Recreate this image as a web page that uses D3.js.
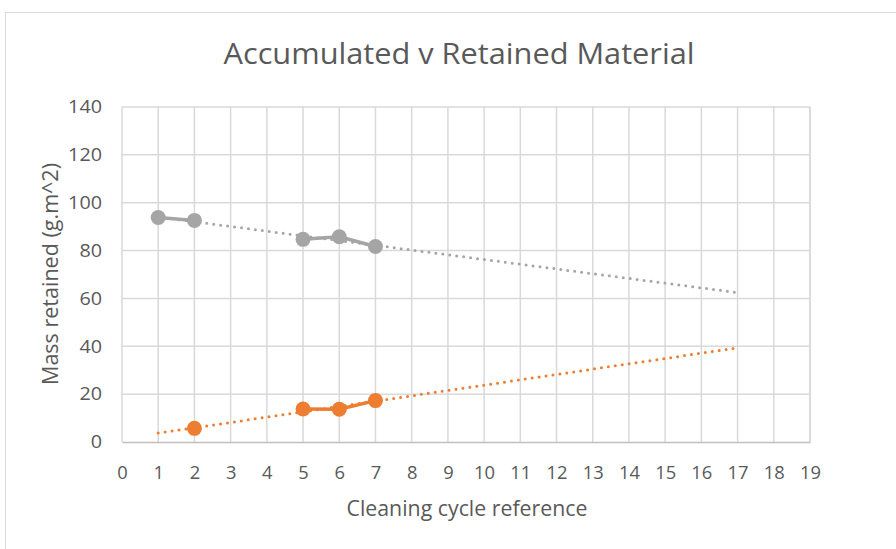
<!DOCTYPE html>
<html>
<head>
<meta charset="utf-8">
<script src="https://cdn.jsdelivr.net/npm/d3@7"></script>
<style>
  body { margin: 0; background: #fff; }
  text { font-family: "Open Sans", sans-serif; fill: #595959; }
</style>
</head>
<body>
<script>
//chart values
var cycles = [1, 2, 5, 6, 7];
var accumulated = [93.8, 92.6, 84.7, 85.8, 81.7];
var retainedCycles = [2, 5, 6, 7];
var retained = [5.7, 13.8, 13.7, 17.3];
var xTicks = d3.range(0, 20);
var yTicks = [0, 20, 40, 60, 80, 100, 120, 140];
var trendFrom = 1, trendTo = 17;

(function(){
	var width = 896, height = 549;
	var margin = {left: 122, right: 86, top: 107, bottom: 107};

	var svg = d3.select("body").append("svg")
		.attr("width", width)
		.attr("height", height);

	//outer chart border
	svg.append("rect")
		.attr("x", 5.5).attr("y", 12.5)
		.attr("width", 1000).attr("height", 1000)
		.attr("fill", "none")
		.attr("stroke", "#d9d9d9");

	var x = d3.scaleLinear().domain([0, 19]).range([margin.left, width - margin.right]);
	var y = d3.scaleLinear().domain([0, 140]).range([height - margin.bottom, margin.top]);

	//gridlines
	svg.append("g").selectAll("line").data(yTicks.slice(1)).enter().append("line")
		.attr("x1", x(0)).attr("x2", x(19))
		.attr("y1", function(d){ return y(d); }).attr("y2", function(d){ return y(d); })
		.attr("stroke", "#d9d9d9").attr("stroke-width", 1.5);
	svg.append("g").selectAll("line").data(xTicks.concat([19])).enter().append("line")
		.attr("x1", function(d){ return x(d); }).attr("x2", function(d){ return x(d); })
		.attr("y1", y(0)).attr("y2", y(140))
		.attr("stroke", "#d9d9d9").attr("stroke-width", 1.5);

	//axes
	var xAxis = svg.append("g")
		.attr("transform", "translate(0," + y(0) + ")")
		.call(d3.axisBottom(x).tickValues(xTicks).tickSize(0).tickPadding(24));
	xAxis.select(".domain").attr("stroke", "#bfbfbf").attr("stroke-width", 1.5);
	xAxis.selectAll("text").style("font-size", "18px").attr("fill", "#595959")
		.style("font-family", "'Open Sans', sans-serif")
		.attr("textLength", function(d){ return String(d).length * 10.5; })
		.attr("lengthAdjust", "spacingAndGlyphs");

	var yAxis = svg.append("g")
		.attr("transform", "translate(" + x(0) + ",0)")
		.call(d3.axisLeft(y).tickValues(yTicks).tickSize(0).tickPadding(20));
	yAxis.select(".domain").remove();
	yAxis.selectAll("text").style("font-size", "18px").attr("fill", "#595959")
		.style("font-family", "'Open Sans', sans-serif")
		.attr("textLength", function(d){ return String(d).length * 11.3; })
		.attr("lengthAdjust", "spacingAndGlyphs");

	//titles
	svg.append("text")
		.attr("x", 459).attr("y", 64)
		.attr("text-anchor", "middle")
		.attr("textLength", 471)
		.attr("lengthAdjust", "spacingAndGlyphs")
		.style("font-size", "30px")
		.text("Accumulated v Retained Material");
	svg.append("text")
		.attr("x", 467).attr("y", 516)
		.attr("text-anchor", "middle")
		.attr("textLength", 241)
		.attr("lengthAdjust", "spacingAndGlyphs")
		.style("font-size", "21px")
		.text("Cleaning cycle reference");
	svg.append("text")
		.attr("transform", "translate(58,274) rotate(-90)")
		.attr("text-anchor", "middle")
		.attr("textLength", 222)
		.attr("lengthAdjust", "spacingAndGlyphs")
		.style("font-size", "21px")
		.text("Mass retained (g.m^2)");

	//linear trend from least squares
	function trend(xs, ys){
		var mx = d3.mean(xs), my = d3.mean(ys);
		var sxy = d3.sum(xs, function(v, i){ return (v - mx) * (ys[i] - my); });
		var sxx = d3.sum(xs, function(v){ return (v - mx) * (v - mx); });
		var b = sxy / sxx, a = my - b * mx;
		return [[trendFrom, a + b * trendFrom], [trendTo, a + b * trendTo]];
	}

	var line = d3.line()
		.x(function(d){ return x(d[0]); })
		.y(function(d){ return y(d[1]); });

	function drawSeries(xs, ys, color){
		var pts = xs.map(function(v, i){ return [v, ys[i]]; });
		//connect consecutive cycles only
		var segs = [];
		for (var i = 1; i < pts.length; i++){
			if (pts[i][0] - pts[i-1][0] == 1) segs.push([pts[i-1], pts[i]]);
		}
		svg.append("g").selectAll("path").data(segs).enter().append("path")
			.attr("d", line)
			.attr("fill", "none")
			.attr("stroke", color)
			.attr("stroke-width", 3.5);
		svg.append("path")
			.attr("d", line(trend(xs, ys)))
			.attr("fill", "none")
			.attr("stroke", color)
			.attr("stroke-width", 3)
			.attr("stroke-linecap", "round")
			.attr("stroke-dasharray", "0,7");
		svg.append("g").selectAll("circle").data(pts).enter().append("circle")
			.attr("cx", function(d){ return x(d[0]); })
			.attr("cy", function(d){ return y(d[1]); })
			.attr("r", 7.5)
			.attr("fill", color);
	}

	drawSeries(cycles, accumulated, "#a5a5a5");
	drawSeries(retainedCycles, retained, "#ed7d31");
})();
</script>
</body>
</html>
